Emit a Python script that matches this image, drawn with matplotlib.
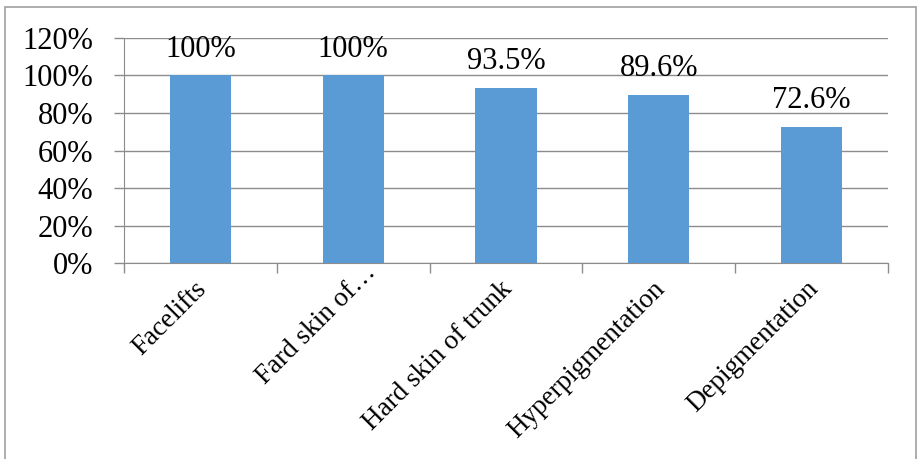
import matplotlib
matplotlib.use("Agg")
import matplotlib.pyplot as plt
from matplotlib.patches import Rectangle
from matplotlib.ticker import FixedLocator, PercentFormatter
import numpy as np

categories = ["Facelifts", "Fard skin of…", "Hard skin of trunk", "Hyperpigmentation", "Depigmentation"]
values = [100, 100, 93.5, 89.6, 72.6]
value_labels = ["100%", "100%", "93.5%", "89.6%", "72.6%"]
yticks = [0, 20, 40, 60, 80, 100, 120]

plt.rcParams['font.family'] = ['Liberation Serif', 'DejaVu Serif']

W, H = 920, 459
fig = plt.figure(figsize=(W / 100, H / 100), dpi=100)
ax = fig.add_axes([124 / W, 1 - 263 / H, (888 - 124) / W, (263 - 38) / H])

x = np.arange(len(categories))
ax.bar(x, values, width=0.4, color='#5B9BD5', zorder=3)
ax.set_xlim(-0.5, len(categories) - 0.5)
ax.set_ylim(0, 120)
ax.set_yticks(yticks)
ax.yaxis.set_major_formatter(PercentFormatter(decimals=0))
ax.grid(axis='y', color='#8c8c8c', linewidth=1.0, zorder=0)
ax.tick_params(axis='y', length=7, width=1, color='#8c8c8c', labelsize=22, pad=15)

ax.set_xticks(x)
ax.set_xticklabels([])
ax.xaxis.set_minor_locator(FixedLocator(np.arange(-0.5, len(categories), 1.0)))
ax.tick_params(axis='x', which='major', length=0)
ax.tick_params(axis='x', which='minor', length=7, width=1, color='#8c8c8c')

for xi, lab in zip(x, categories):
    # truncated label (with ellipsis) sits further along its direction, as in Excel
    extra = 12 if lab.endswith('…') else 0
    ax.annotate(lab, xy=(xi, 0), xycoords=('data', 'axes fraction'),
                xytext=(2 + extra, -16 + extra), textcoords='offset points',
                rotation=45, rotation_mode='anchor', ha='right', va='center',
                fontsize=19.5)

for xi, v, lab in zip(x, values, value_labels):
    ax.annotate(lab, xy=(xi, v), xytext=(0, 13.5), textcoords='offset points',
                ha='center', va='baseline', fontsize=22)

for side in ['top', 'right']:
    ax.spines[side].set_visible(False)
ax.spines['left'].set_color('#8c8c8c')
ax.spines['bottom'].set_color('#8c8c8c')

fig.patches.append(Rectangle((4.5 / W, -0.05), (916 - 4.5) / W, 1.05 - 7.5 / H,
                             transform=fig.transFigure, fill=False,
                             edgecolor='#a0a0a0', linewidth=1.2, clip_on=False))

fig.savefig('out.png', dpi=100)
